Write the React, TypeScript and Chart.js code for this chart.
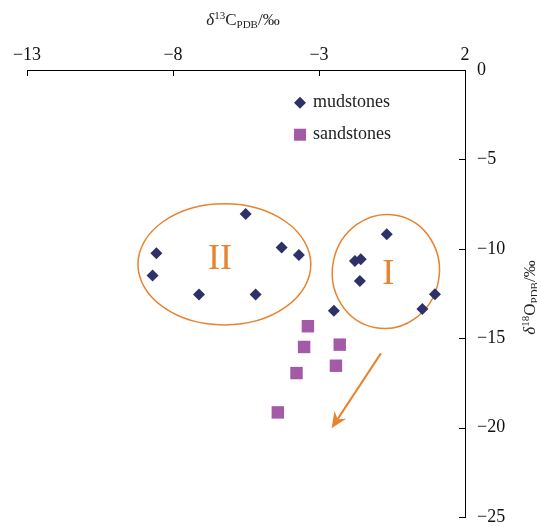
import React, { useEffect, useRef } from 'react';
import { Chart, registerables } from 'chart.js';

Chart.register(...registerables);

// ---------- data ----------
const xTicks = [-13, -8, -3, 2];
const yTicks = [0, -5, -10, -15, -20, -25];

const mudstoneC = [-5.51, -8.57, -8.7, -7.11, -5.17, -4.28, -3.69, -0.68, -1.77, -1.57, -1.6, -2.49, 0.54, 0.97];
const mudstoneO = [-8.05, -10.25, -11.5, -12.56, -12.56, -9.93, -10.34, -9.18, -10.68, -10.58, -11.8, -13.46, -13.37, -12.54];

const sandstoneC = [-3.38, -3.51, -2.29, -3.77, -2.42, -4.41];
const sandstoneO = [-14.33, -15.49, -15.36, -16.95, -16.54, -19.15];

const seriesNames = ['mudstones', 'sandstones'];
const groupNames = ['I', 'II'];

// ---------- styles ----------
const FAMILY = "'Liberation Serif', 'Times New Roman', serif";
const NAVY = '#2e3068';
const PURPLE = '#a45ba7';
const ORANGE = '#e8832f';

type Part = [string, string];

function drawRich(ctx: CanvasRenderingContext2D, parts: Part[], cx: number, baseline: number, base: number) {
  const small = Math.round(base * 0.62);
  const fontFor = (k: string) =>
    k === 'sup' || k === 'sub'
      ? `${small}px ${FAMILY}`
      : k === 'i'
      ? `italic ${base}px ${FAMILY}`
      : `${base}px ${FAMILY}`;
  let total = 0;
  const widths: number[] = [];
  for (const [t, k] of parts) {
    ctx.font = fontFor(k);
    const w = ctx.measureText(t).width;
    widths.push(w);
    total += w;
  }
  let xx = cx - total / 2;
  ctx.textAlign = 'left';
  ctx.textBaseline = 'alphabetic';
  parts.forEach(([t, k], i) => {
    ctx.font = fontFor(k);
    const dy = k === 'sup' ? -base * 0.36 : k === 'sub' ? base * 0.18 : 0;
    ctx.fillText(t, xx, baseline + dy);
    xx += widths[i];
  });
}

const annotatePlugin = {
  id: 'annotate',
  beforeDatasetsDraw(chart: any) {
    const { ctx } = chart;
    const xs = chart.scales.x;
    const ys = chart.scales.y;
    const px = (v: number) => xs.getPixelForValue(v);
    const py = (v: number) => ys.getPixelForValue(v);
    ctx.save();
    ctx.strokeStyle = ORANGE;
    ctx.lineWidth = 1.5;
    // group II ellipse
    {
      const cx = px(-6.24), cy = py(-10.87);
      const rx = Math.abs(px(-6.24 + 2.96) - cx);
      const ry = Math.abs(py(-10.87 + 3.39) - cy);
      ctx.beginPath();
      ctx.ellipse(cx, cy, rx, ry, 0, 0, Math.PI * 2);
      ctx.stroke();
    }
    // group I ellipse
    {
      const cx = px(-0.71), cy = py(-11.27);
      const rx = Math.abs(px(-0.71 + 1.83) - cx);
      const ry = Math.abs(py(-11.27 + 3.19) - cy);
      ctx.beginPath();
      ctx.ellipse(cx, cy, rx, ry, 0.2, 0, Math.PI * 2);
      ctx.stroke();
    }
    // arrow
    {
      const x0 = px(-0.88), y0 = py(-15.85);
      const x1 = px(-2.57), y1 = py(-20.04);
      const ang = Math.atan2(y1 - y0, x1 - x0);
      const L = 16, W = 7, notch = 11;
      ctx.lineWidth = 2;
      ctx.beginPath();
      ctx.moveTo(x0, y0);
      ctx.lineTo(x1 - Math.cos(ang) * notch, y1 - Math.sin(ang) * notch);
      ctx.stroke();
      const bx = x1 - Math.cos(ang) * L, by = y1 - Math.sin(ang) * L;
      const nx = -Math.sin(ang), ny = Math.cos(ang);
      ctx.fillStyle = ORANGE;
      ctx.beginPath();
      ctx.moveTo(x1, y1);
      ctx.lineTo(bx + nx * W, by + ny * W);
      ctx.lineTo(x1 - Math.cos(ang) * notch, y1 - Math.sin(ang) * notch);
      ctx.lineTo(bx - nx * W, by - ny * W);
      ctx.closePath();
      ctx.fill();
    }
    // group labels
    ctx.fillStyle = ORANGE;
    ctx.font = `36px ${FAMILY}`;
    ctx.textAlign = 'center';
    ctx.textBaseline = 'middle';
    ctx.fillText(groupNames[0], px(-0.63), py(-11.46));
    ctx.fillText(groupNames[1], px(-6.39), py(-10.62));
    ctx.restore();
  },
  afterDraw(chart: any) {
    const { ctx, chartArea } = chart;
    const xs = chart.scales.x;
    const ys = chart.scales.y;
    ctx.save();
    // inward tick marks
    ctx.strokeStyle = '#000';
    ctx.lineWidth = 1;
    ctx.beginPath();
    xs.ticks.forEach((t: any) => {
      const x = Math.round(xs.getPixelForValue(t.value)) + 0.5;
      ctx.moveTo(x, chartArea.top);
      ctx.lineTo(x, chartArea.top + 6);
    });
    ys.ticks.forEach((t: any) => {
      const y = Math.round(ys.getPixelForValue(t.value)) + 0.5;
      ctx.moveTo(chartArea.right, y);
      ctx.lineTo(chartArea.right - 6, y);
    });
    ctx.stroke();

    // axis titles
    ctx.fillStyle = '#222';
    drawRich(
      ctx,
      [['δ', 'i'], ['13', 'sup'], ['C', ''], ['PDB', 'sub'], ['/‰', '']],
      (chartArea.left + chartArea.right) / 2 - 3,
      25,
      17
    );
    ctx.save();
    ctx.translate(535, (chartArea.top + chartArea.bottom) / 2 + 4);
    ctx.rotate(-Math.PI / 2);
    drawRich(ctx, [['δ', 'i'], ['18', 'sup'], ['O', ''], ['PDB', 'sub'], ['/‰', '']], 0, 0, 17);
    ctx.restore();

    // legend
    const legendX = xs.getPixelForValue(-3.65);
    const rows = [ys.getPixelForValue(-1.83), ys.getPixelForValue(-3.62)];
    ctx.fillStyle = NAVY;
    ctx.beginPath();
    ctx.moveTo(legendX, rows[0] - 6);
    ctx.lineTo(legendX + 6, rows[0]);
    ctx.lineTo(legendX, rows[0] + 6);
    ctx.lineTo(legendX - 6, rows[0]);
    ctx.closePath();
    ctx.fill();
    ctx.fillStyle = PURPLE;
    ctx.fillRect(legendX - 6, rows[1] - 6, 12, 12);
    ctx.fillStyle = '#222';
    ctx.font = `18px ${FAMILY}`;
    ctx.textAlign = 'left';
    ctx.textBaseline = 'middle';
    ctx.fillText(seriesNames[0], legendX + 13, rows[0]);
    ctx.fillText(seriesNames[1], legendX + 13, rows[1]);
    ctx.restore();
  },
};

export default function App() {
  const ref = useRef<HTMLCanvasElement | null>(null);

  useEffect(() => {
    document.body.style.margin = '0';
    if (!ref.current) return;
    const minus = (v: any) => String(v).replace('-', '−');
    const chart = new Chart(ref.current, {
      type: 'scatter',
      data: {
        datasets: [
          {
            label: seriesNames[0],
            data: mudstoneC.map((c, i) => ({ x: c, y: mudstoneO[i] })),
            pointStyle: 'rectRot',
            pointRadius: 6,
            backgroundColor: NAVY,
            borderColor: NAVY,
            borderWidth: 0,
          },
          {
            label: seriesNames[1],
            data: sandstoneC.map((c, i) => ({ x: c, y: sandstoneO[i] })),
            pointStyle: 'rect',
            pointRadius: 8.8,
            backgroundColor: PURPLE,
            borderColor: PURPLE,
            borderWidth: 0,
          },
        ],
      },
      options: {
        responsive: false,
        animation: false,
        events: [],
        layout: { padding: { left: 27, right: 0, top: 0, bottom: 9 } },
        plugins: { legend: { display: false }, tooltip: { enabled: false } },
        scales: {
          x: {
            type: 'linear',
            position: 'top',
            min: -13,
            max: 2,
            afterBuildTicks: (s: any) => { s.ticks = xTicks.map((v) => ({ value: v })); },
            afterFit: (s: any) => { s.height = 70; s.paddingLeft = 0; s.paddingRight = 0; },
            grid: { display: false, drawTicks: false },
            border: { display: true, color: '#000', width: 1 },
            ticks: { color: '#111', font: { family: FAMILY, size: 18 }, padding: 4, maxRotation: 0, callback: minus },
          },
          y: {
            type: 'linear',
            position: 'right',
            min: -25,
            max: 0,
            afterBuildTicks: (s: any) => { s.ticks = yTicks.map((v) => ({ value: v })); },
            afterFit: (s: any) => { s.width = 72; s.paddingTop = 0; s.paddingBottom = 0; },
            grid: { display: false, drawTicks: false },
            border: { display: true, color: '#000', width: 1 },
            ticks: { color: '#111', font: { family: FAMILY, size: 18 }, padding: 12, callback: minus },
          },
        },
      },
      plugins: [annotatePlugin],
    } as any);
    return () => chart.destroy();
  }, []);

  return (
    <div style={{ width: 537, height: 526 }}>
      <canvas ref={ref} width={537} height={526} style={{ display: 'block' }} />
    </div>
  );
}
